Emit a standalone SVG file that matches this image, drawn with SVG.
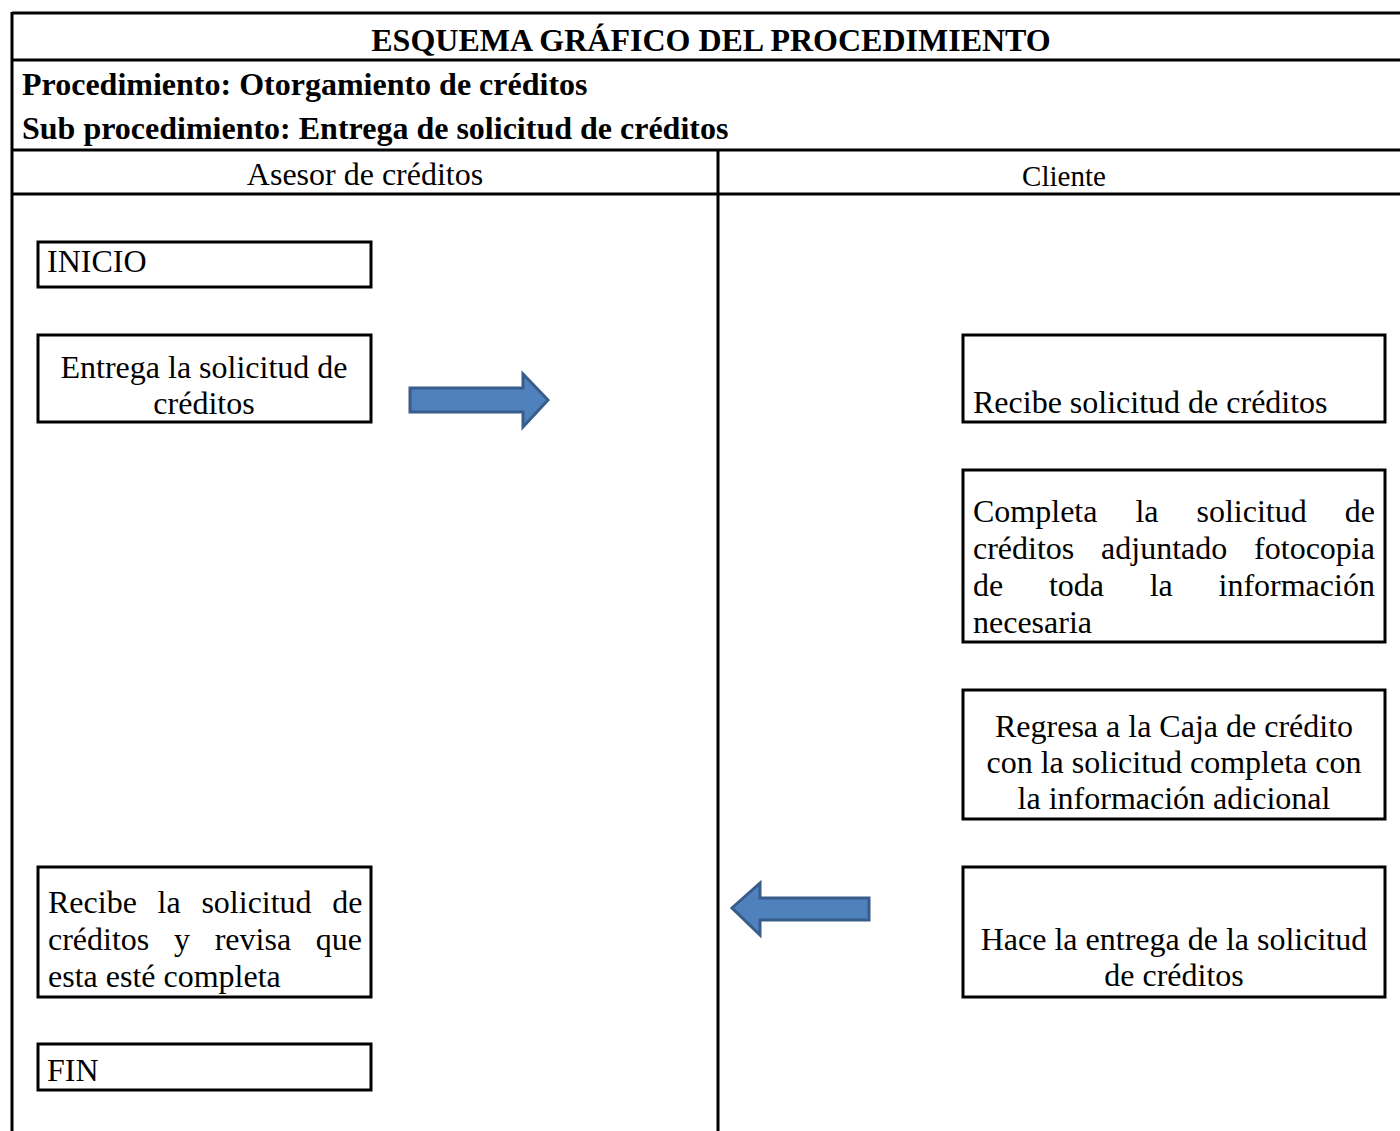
<svg xmlns="http://www.w3.org/2000/svg" width="1400" height="1131" viewBox="0 0 1400 1131">
  <style>
    .grid { stroke: #000; stroke-width: 3; fill: none; }
    .box { fill: #fff; stroke: #000; stroke-width: 3; }
    .t { font-family: "Liberation Serif", "Times New Roman", serif; font-size: 32px; fill: #000; }
    .b { font-weight: bold; }
    .c { text-anchor: middle; }
    .arrow { fill: #4F81BD; stroke: #385D8A; stroke-width: 3; stroke-linejoin: miter; }
  </style>
  <rect x="0" y="0" width="1400" height="1131" fill="#fff"/>

  <!-- table frame -->
  <g id="table">
    <line class="grid" x1="12" y1="13" x2="1400" y2="13"/>
    <line class="grid" x1="12" y1="12" x2="12" y2="1131"/>
    <line class="grid" x1="12" y1="60" x2="1400" y2="60"/>
    <line class="grid" x1="12" y1="150" x2="1400" y2="150"/>
    <line class="grid" x1="12" y1="194" x2="1400" y2="194"/>
    <line class="grid" x1="718" y1="150" x2="718" y2="1131"/>
    <text class="t b c" x="711" y="51">ESQUEMA GRÁFICO DEL PROCEDIMIENTO</text>
    <text class="t b" x="22" y="95">Procedimiento: Otorgamiento de créditos</text>
    <text class="t b" x="22" y="139">Sub procedimiento: Entrega de solicitud de créditos</text>
    <text class="t c" x="365" y="185">Asesor de créditos</text>
    <text class="t c" x="1064" y="186" style="font-size:29px">Cliente</text>
  </g>

  <!-- Asesor de créditos lane -->
  <g id="inicio">
    <rect class="box" x="38" y="242" width="333" height="45"/>
    <text class="t" x="47" y="272">INICIO</text>
  </g>
  <g id="entrega">
    <rect class="box" x="38" y="335" width="333" height="87"/>
    <text class="t c" x="204" y="378">Entrega la solicitud de</text>
    <text class="t c" x="204" y="414">créditos</text>
  </g>
  <g id="recibe-revisa">
    <rect class="box" x="38" y="867" width="333" height="130"/>
    <text class="t" y="913"><tspan x="48">Recibe</tspan><tspan x="157.6">la</tspan><tspan x="201.4">solicitud</tspan><tspan x="332.3">de</tspan></text>
    <text class="t" y="950"><tspan x="48">créditos</tspan><tspan x="174">y</tspan><tspan x="214.7">revisa</tspan><tspan x="315.8">que</tspan></text>
    <text class="t" x="48" y="987">esta esté completa</text>
  </g>
  <g id="fin">
    <rect class="box" x="38" y="1044" width="333" height="46"/>
    <text class="t" x="47" y="1081">FIN</text>
  </g>

  <!-- Cliente lane -->
  <g id="recibe-solicitud">
    <rect class="box" x="963" y="335" width="422" height="87"/>
    <text class="t" x="973" y="413">Recibe solicitud de créditos</text>
  </g>
  <g id="completa">
    <rect class="box" x="963" y="470" width="422" height="172"/>
    <text class="t" y="522"><tspan x="973">Completa</tspan><tspan x="1135.4">la</tspan><tspan x="1196.5">solicitud</tspan><tspan x="1344.7">de</tspan></text>
    <text class="t" y="559"><tspan x="973">créditos</tspan><tspan x="1101.1">adjuntado</tspan><tspan x="1254.1">fotocopia</tspan></text>
    <text class="t" y="596"><tspan x="973">de</tspan><tspan x="1048.9">toda</tspan><tspan x="1149.7">la</tspan><tspan x="1218.5">información</tspan></text>
    <text class="t" x="973" y="633">necesaria</text>
  </g>
  <g id="regresa">
    <rect class="box" x="963" y="690" width="422" height="129"/>
    <text class="t c" x="1174" y="737">Regresa a la Caja de crédito</text>
    <text class="t c" x="1174" y="773">con la solicitud completa con</text>
    <text class="t c" x="1174" y="809">la información adicional</text>
  </g>
  <g id="hace-entrega">
    <rect class="box" x="963" y="867" width="422" height="130"/>
    <text class="t c" x="1174" y="950">Hace la entrega de la solicitud</text>
    <text class="t c" x="1174" y="986">de créditos</text>
  </g>

  <!-- block arrows between lanes -->
  <g id="connectors">
    <polygon class="arrow" points="410,388 523,388 523,374 548,400 523,427 523,412 410,412"/>
    <polygon class="arrow" points="869,898 760,898 760,883 732,908 760,935 760,920 869,920"/>
  </g>
</svg>
